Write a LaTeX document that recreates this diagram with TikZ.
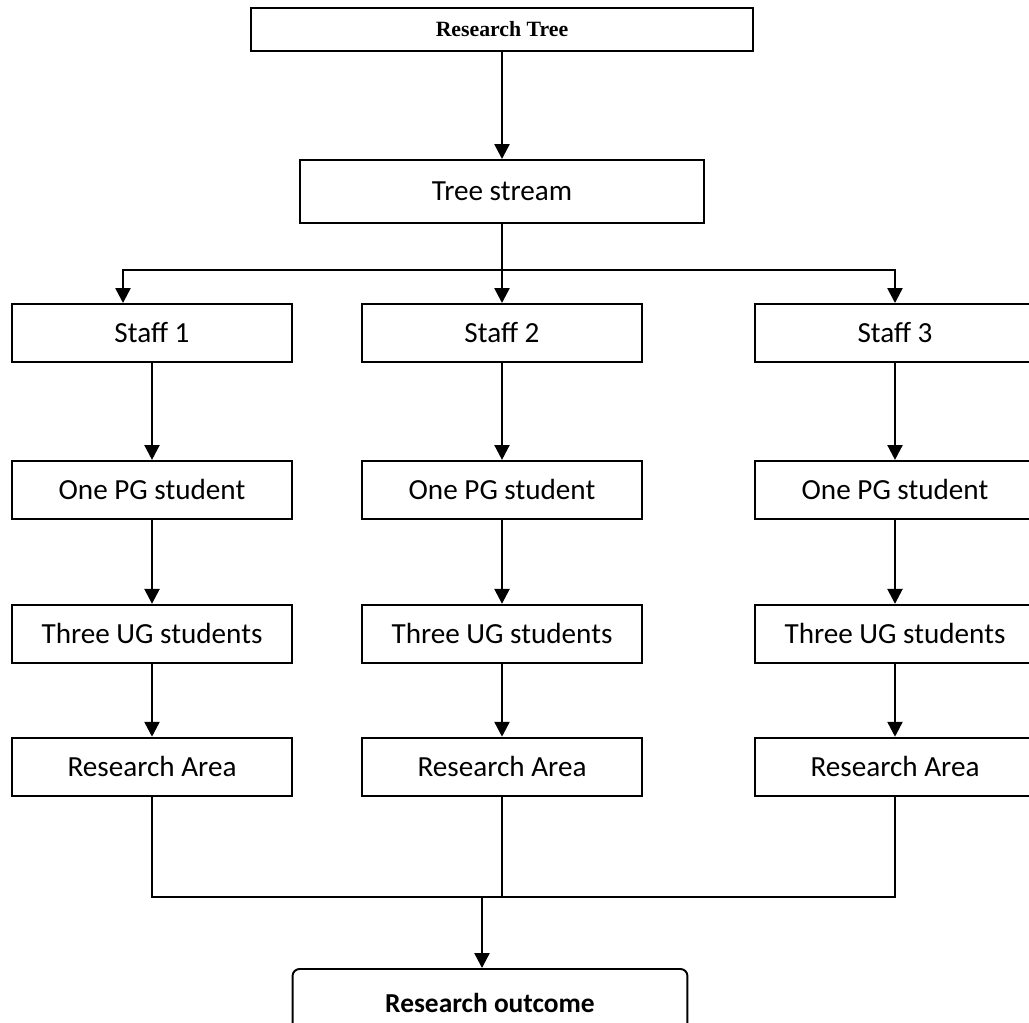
\documentclass[tikz,border=0pt]{standalone}
\usepackage{fontspec}
\setmainfont{Carlito}
\newfontfamily\timesfont{Liberation Serif}
\usetikzlibrary{positioning,arrows.meta}

\tikzset{
  box/.style={draw,line width=1.1pt,minimum width=5.6cm,minimum height=1.16cm,
    font=\fontsize{16.6}{19}\selectfont},
  arr/.style={line width=1.4pt,-{Triangle[width=8.5pt,length=8.5pt]}},
  link/.style={line width=0.85pt}
}

\begin{document}
\begin{tikzpicture}[x=0.02cm,y=-0.02cm]
\useasboundingbox (0,0) rectangle (1029,1023);
\clip (0,0) rectangle (1029,1023);
% top of the tree
\node[box,minimum width=10.04cm,minimum height=0.86cm,
  font=\timesfont\bfseries\fontsize{12.4}{14}\selectfont] (rt) at (502,29.5) {Research Tree};
\node[box,minimum width=8.1cm,minimum height=1.26cm] (ts) at (502,191.5) {Tree stream};
% staff row
\node[box] (s1) at (152,333) {Staff 1};
\node[box] (s2) at (502,333) {Staff 2};
\node[box] (s3) at (895,333) {Staff 3};
% column under staff 1
\node[box] (pg1) [below=1.94cm of s1] {One PG student};
\node[box] (ug1) [below=1.68cm of pg1] {Three UG students};
\node[box] (ra1) [below=1.46cm of ug1] {Research Area};
% column under staff 2
\node[box] (pg2) [below=1.94cm of s2] {One PG student};
\node[box] (ug2) [below=1.68cm of pg2] {Three UG students};
\node[box] (ra2) [below=1.46cm of ug2] {Research Area};
% column under staff 3
\node[box] (pg3) [below=1.94cm of s3] {One PG student};
\node[box] (ug3) [below=1.68cm of pg3] {Three UG students};
\node[box] (ra3) [below=1.46cm of ug3] {Research Area};
% the result
\node[box,rounded corners=0.14cm,minimum width=7.9cm,minimum height=1.36cm,
  font=\bfseries\fontsize{15.6}{18}\selectfont] (out) at (490,1003) {Research outcome};
% split below the stream
\coordinate (split) at (502,270);
\coordinate (merge) at (482,897);
\draw[arr] (rt) -- (ts);
\draw[arr] (ts) -- (s2);
\draw[arr] (split) -| ([xshift=-0.58cm]s1.north);
\draw[arr] (split) -| (s3.north);
% down each column
\draw[arr] (s1) -- (pg1);
\draw[arr] (pg1) -- (ug1);
\draw[arr] (ug1) -- (ra1);
\draw[arr] (s2) -- (pg2);
\draw[arr] (pg2) -- (ug2);
\draw[arr] (ug2) -- (ra2);
\draw[arr] (s3) -- (pg3);
\draw[arr] (pg3) -- (ug3);
\draw[arr] (ug3) -- (ra3);
% join the areas
\draw[link] (ra1.south) |- (merge) -| (ra3.south);
\draw[link] (ra2.south) -- (ra2.south |- merge);
\draw[arr] (merge) -- (merge |- out.north);
\end{tikzpicture}
\end{document}
